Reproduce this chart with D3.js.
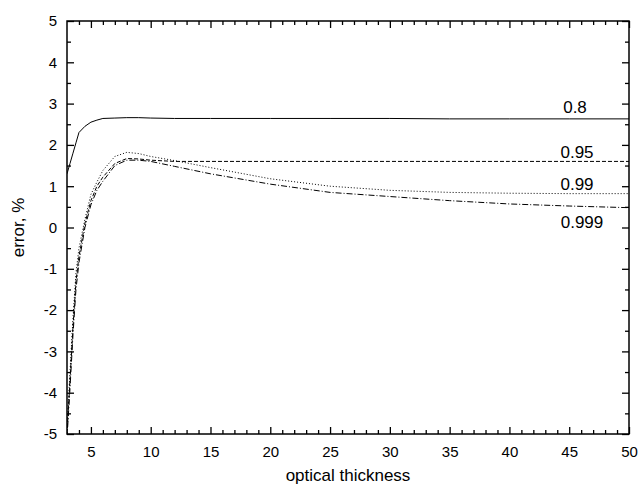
<!DOCTYPE html>
<html><head><meta charset="utf-8">
<script src="https://cdn.jsdelivr.net/npm/d3@7"></script>
<style>body{margin:0;background:#fff}svg{display:block}text{font-family:"Liberation Sans",Arial,sans-serif;fill:#000}</style>
</head><body>
<svg id="c" width="638" height="492"></svg>
<script>
const xs    = [3, 3.25, 3.5, 3.75, 4, 4.5, 5, 5.5, 6, 7, 8, 9, 10, 12, 15, 20, 25, 30, 35, 40, 45, 50];
const s08   = [1.3, 1.55, 1.8, 2.05, 2.3, 2.45, 2.55, 2.6, 2.64, 2.65, 2.66, 2.66, 2.65, 2.64, 2.64, 2.64, 2.64, 2.64, 2.63, 2.63, 2.63, 2.63];
const s095  = [-5.0, -3.7, -2.4, -1.3, -0.7, 0.1, 0.65, 1.0, 1.22, 1.55, 1.67, 1.66, 1.63, 1.6, 1.6, 1.6, 1.6, 1.6, 1.6, 1.6, 1.6, 1.6];
const s099  = [-4.9, -3.5, -2.2, -1.1, -0.5, 0.2, 0.8, 1.1, 1.38, 1.72, 1.82, 1.79, 1.72, 1.62, 1.45, 1.18, 1.0, 0.9, 0.85, 0.83, 0.82, 0.82];
const s0999 = [-5.1, -3.9, -2.6, -1.5, -0.85, 0.0, 0.55, 0.9, 1.12, 1.5, 1.63, 1.63, 1.6, 1.48, 1.3, 1.05, 0.85, 0.75, 0.65, 0.57, 0.52, 0.48];
const seriesNames = ["0.8", "0.95", "0.99", "0.999"];
const xTicks = [5, 10, 15, 20, 25, 30, 35, 40, 45, 50];
const yTicks = [-5, -4, -3, -2, -1, 0, 1, 2, 3, 4, 5];
const xLabel = "optical thickness";
const yLabel = "error, %";

const svg = d3.select("#c");
const L = 67, R = 629, T = 21, B = 434;
const x = d3.scaleLinear().domain([3, 50]).range([L, R]);
const y = d3.scaleLinear().domain([-5, 5]).range([B, T]);

const series = [
  {name: seriesNames[0], v: s08, dash: null, lx: 575, ly: 113},
  {name: seriesNames[1], v: s095, dash: "4,2", lx: 577, ly: 158},
  {name: seriesNames[2], v: s099, dash: "1,2", lx: 577, ly: 190},
  {name: seriesNames[3], v: s0999, dash: "6,2,1,2", lx: 582, ly: 228}
];

svg.append("clipPath").attr("id","clip").append("rect").attr("x",L).attr("y",T).attr("width",R-L).attr("height",B-T);

const line = d3.line().x((d,i)=>x(xs[i])).y(d=>y(d));
const g = svg.append("g").attr("clip-path","url(#clip)");
series.forEach(s=>{
  g.append("path").attr("d", line(s.v)).attr("fill","none").attr("stroke","#000")
   .attr("stroke-width",1).attr("stroke-dasharray", s.dash);
});
series.forEach(s=>{
  svg.append("text").attr("x", s.lx).attr("y", s.ly).attr("text-anchor","middle")
    .attr("font-size", 17).text(s.name);
});

// axes
const minorX = d3.range(4, 50, 1).filter(v=>v%5!==0);
const minorY = d3.range(-4.5, 5, 1);
const maj = 7, mn = 4;
const fmt = d => String(d);
svg.append("g").attr("transform",`translate(0,${B})`).call(d3.axisBottom(x).tickValues(xTicks).tickFormat(fmt).tickSizeInner(-maj).tickSizeOuter(0).tickPadding(12));
svg.append("g").attr("transform",`translate(0,${T})`).call(d3.axisTop(x).tickValues(xTicks).tickSizeInner(-maj).tickSizeOuter(0).tickFormat(""));
svg.append("g").attr("transform",`translate(${L},0)`).call(d3.axisLeft(y).tickValues(yTicks).tickFormat(fmt).tickSizeInner(-maj).tickSizeOuter(0).tickPadding(10));
svg.append("g").attr("transform",`translate(${R},0)`).call(d3.axisRight(y).tickValues(yTicks).tickSizeInner(-maj).tickSizeOuter(0).tickFormat(""));
svg.append("g").attr("transform",`translate(0,${B})`).call(d3.axisBottom(x).tickValues(minorX).tickSizeInner(-mn).tickSizeOuter(0).tickFormat(""));
svg.append("g").attr("transform",`translate(0,${T})`).call(d3.axisTop(x).tickValues(minorX).tickSizeInner(-mn).tickSizeOuter(0).tickFormat(""));
svg.append("g").attr("transform",`translate(${L},0)`).call(d3.axisLeft(y).tickValues(minorY).tickSizeInner(-mn).tickSizeOuter(0).tickFormat(""));
svg.append("g").attr("transform",`translate(${R},0)`).call(d3.axisRight(y).tickValues(minorY).tickSizeInner(-mn).tickSizeOuter(0).tickFormat(""));
svg.selectAll(".domain").remove();
svg.selectAll(".tick line").attr("stroke","#000").attr("stroke-width",1.3);
svg.selectAll(".tick text").attr("font-size",15).attr("font-family","'Liberation Sans',Arial,sans-serif").attr("fill","#000");
svg.append("rect").attr("x",L).attr("y",T).attr("width",R-L).attr("height",B-T).attr("fill","none").attr("stroke","#000").attr("stroke-width",1.5);

svg.append("text").attr("x",(L+R)/2).attr("y",481).attr("text-anchor","middle").attr("font-size",17).text(xLabel);
svg.append("text").attr("transform",`translate(24,${(T+B)/2}) rotate(-90)`).attr("text-anchor","middle").attr("font-size",17).text(yLabel);
</script>
</body></html>
